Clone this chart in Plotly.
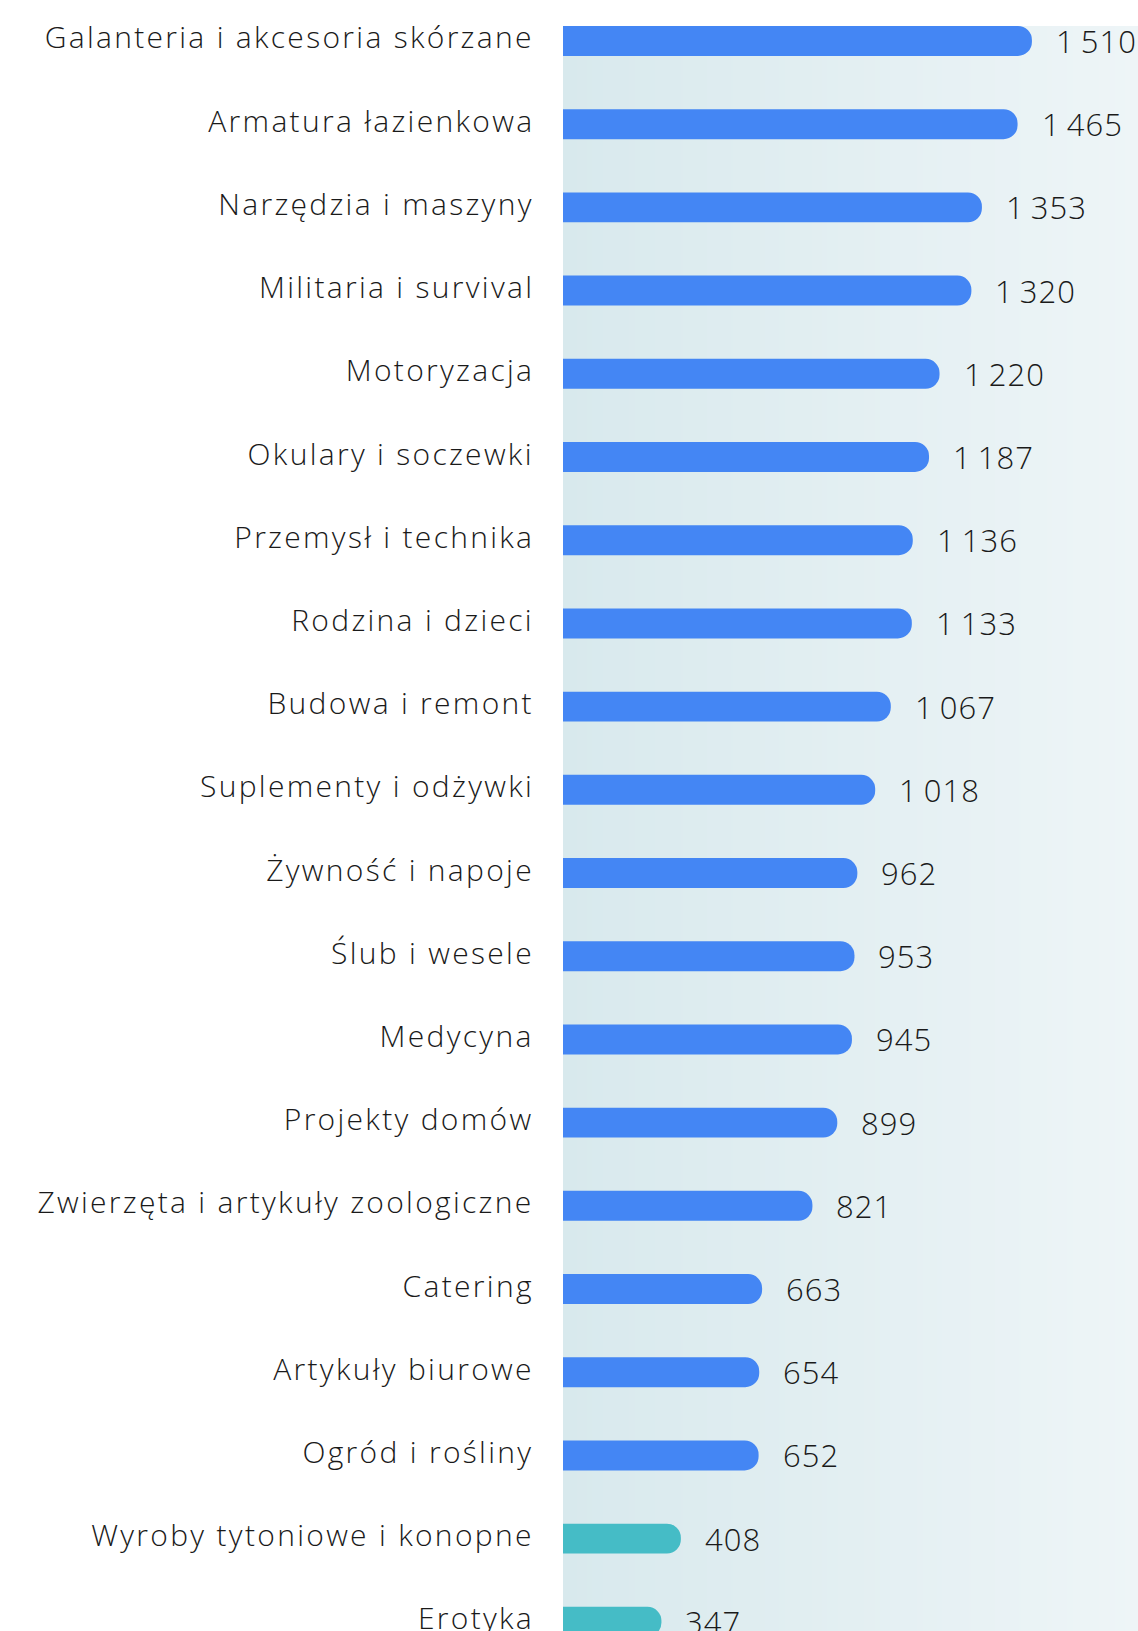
import numpy as np
import plotly.graph_objects as go

categories = [
    "Galanteria i akcesoria skórzane",
    "Armatura łazienkowa",
    "Narzędzia i maszyny",
    "Militaria i survival",
    "Motoryzacja",
    "Okulary i soczewki",
    "Przemysł i technika",
    "Rodzina i dzieci",
    "Budowa i remont",
    "Suplementy i odżywki",
    "Żywność i napoje",
    "Ślub i wesele",
    "Medycyna",
    "Projekty domów",
    "Zwierzęta i artykuły zoologiczne",
    "Catering",
    "Artykuły biurowe",
    "Ogród i rośliny",
    "Wyroby tytoniowe i konopne",
    "Erotyka",
]
values = [1510, 1465, 1353, 1320, 1220, 1187, 1136, 1133, 1067, 1018,
          962, 953, 945, 899, 821, 663, 654, 652, 408, 347]
groups = ["main"] * 18 + ["other"] * 2

BLUE = "#4486f4"
TEAL = "#45bcc6"
colors = [BLUE if g == "main" else TEAL for g in groups]

XMIN, XMAX = 38, 1843
idx = list(range(len(categories)))
FONT = "Open Sans"


def fmt(v):
    return f"{v:,}".replace(",", "\u2009")


fig = go.Figure()

# background gradient
gx = np.linspace(XMIN, XMAX, 60)
fig.add_trace(go.Heatmap(
    x=gx, y=[-2, 21], z=[gx, gx],
    colorscale=[[0, "#d8e9ed"], [1, "#eef5f7"]],
    showscale=False, zsmooth="best", hoverinfo="skip",
))

fig.add_trace(go.Bar(
    x=values, y=idx, orientation="h", width=0.36,
    marker=dict(color=colors, cornerradius=15, line=dict(width=0)),
    hoverinfo="x+y",
))

# value labels
for i, v in zip(idx, values):
    fig.add_annotation(
        x=v, y=i, text=fmt(v), showarrow=False, xanchor="left", yanchor="middle",
        align="left", xshift=22,
        font=dict(family=FONT, size=31, color="#1a1a1a", weight=300),
    )

# category labels
for i, c in zip(idx, categories):
    fig.add_annotation(
        x=0, xref="paper", y=i, text=c, showarrow=False,
        xanchor="right", yanchor="middle", align="right",
        xshift=-27, yshift=4,
        font=dict(family=FONT, size=30, color="#1a1a1a", weight=300),
    )

fig.update_layout(
    width=1138, height=1631,
    margin=dict(l=563, r=0, t=26, b=0),
    paper_bgcolor="white", plot_bgcolor="#e3eff2",
    showlegend=False,
    font=dict(family=FONT, size=29, color="#1a1a1a"),
)
fig.update_xaxes(range=[XMIN, XMAX], visible=False, showgrid=False, zeroline=False)
fig.update_yaxes(range=[19.11, -0.18], visible=False, showgrid=False, zeroline=False)

post = """
document.body.style.margin='0';
document.body.style.overflow='hidden';
(function(){
  var gd = document.getElementById('{plot_id}');
  function track(){
    document.querySelectorAll('.annotation-text').forEach(function(t){
      if (/[A-Za-z]/.test(t.textContent)) { t.style.letterSpacing = '2.3px'; }
      else { t.style.letterSpacing = '1px'; }
    });
  }
  track();
  setTimeout(track, 0);
  if (gd && gd.on) { gd.on('plotly_afterplot', track); }
})();
"""

fig.write_html("out.html", config={"displayModeBar": False}, post_script=post)
